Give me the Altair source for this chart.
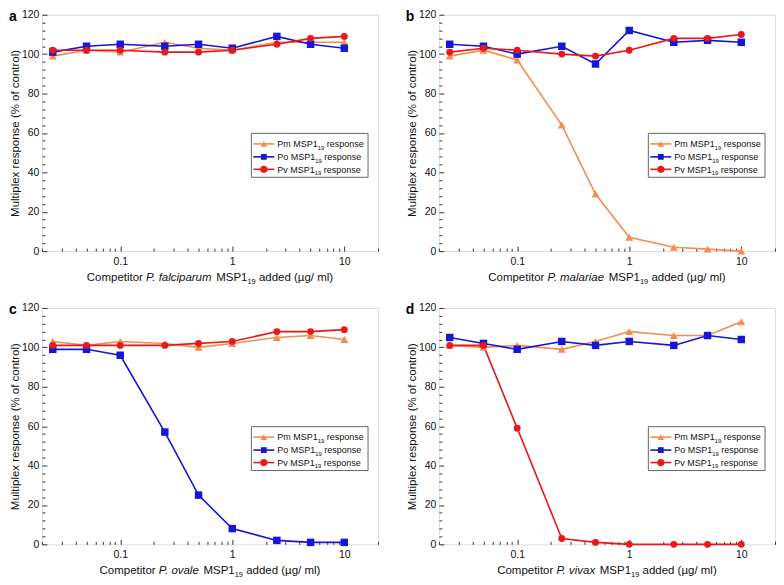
import altair as alt
import pandas as pd

# ---------------- data ----------------
conc = [0.025, 0.05, 0.1, 0.25, 0.5, 1, 2.5, 5, 10]
series_names = ["Pm", "Po", "Pv"]

a_pm = [99, 102, 101, 106, 103, 102, 106, 106, 106]
a_po = [101, 104, 105, 104, 105, 103, 109, 105, 103]
a_pv = [102, 102, 102, 101, 101, 102, 105, 108, 109]

b_pm = [99, 102, 97, 64, 29, 7, 2, 1, 0]
b_po = [105, 104, 100, 104, 95, 112, 106, 107, 106]
b_pv = [101, 103, 102, 100, 99, 102, 108, 108, 110]

c_pm = [103, 101, 103, 102, 100, 102, 105, 106, 104]
c_po = [99, 99, 96, 57, 25, 8, 2, 1, 1]
c_pv = [101, 101, 101, 101, 102, 103, 108, 108, 109]

d_pm = [101, 100, 101, 99, 103, 108, 106, 106, 113]
d_po = [105, 102, 99, 103, 101, 103, 101, 106, 104]
d_pv = [101, 101, 59, 3, 1, 0, 0, 0, 0]

panel_letters = ["a", "b", "c", "d"]
panel_species = ["P. falciparum", "P. malariae", "P. ovale", "P. vivax"]

x_major = [0.1, 1, 10]
x_minor = [0.02, 0.03, 0.04, 0.05, 0.06, 0.07, 0.08, 0.09,
           0.2, 0.3, 0.4, 0.5, 0.6, 0.7, 0.8, 0.9,
           2, 3, 4, 5, 6, 7, 8, 9, 20]
y_major = [0, 20, 40, 60, 80, 100, 120]
y_minor = [v for v in range(0, 121, 4) if v % 20 != 0]

# ---------------- style ----------------
FONT = "Liberation Sans"
PW, PH = 337, 237
colors = ["#F58D4E", "#1616D6", "#E8191C"]
shapes = ["triangle-up", "square", "circle"]
sizes = [64, 48, 76]
leg_sizes = [44, 34, 52]
TICK_C = "#333333"

# Arial-like advance widths (per 1000 em) for laying out rich titles
W = {' ': 278, '.': 278, '(': 333, ')': 333, '/': 278, '%': 889,
     '0': 556, '1': 556, '9': 556, 'C': 722, 'M': 833, 'P': 667, 'S': 667,
     'a': 556, 'c': 500, 'd': 556, 'e': 556, 'f': 278, 'g': 556, 'i': 222,
     'l': 222, 'm': 833, 'n': 556, 'o': 556, 'p': 556, 'r': 333, 's': 500,
     't': 278, 'u': 556, 'v': 500, 'x': 500, 'µ': 576}


def tw(s, size):
    return sum(W.get(ch, 556) for ch in s) * size / 1000.0


def one():
    return alt.Data(values=[{"k": 1}])


def rich_text(pieces, x0, y0):
    """pieces: list of (text, size, style, dy); laid out left to right.
    Leading/trailing spaces are turned into x offsets (the renderer trims them)."""
    out = []
    x = x0
    for text, size, style, dy in pieces:
        lead = len(text) - len(text.lstrip(" "))
        x += lead * W[" "] * size / 1000.0
        core = text.strip(" ")
        out.append(
            alt.Chart(one()).mark_text(
                text=core, align="left", baseline="alphabetic", font=FONT,
                fontSize=size, fontStyle=style, color="#111111"
            ).encode(x=alt.value(x), y=alt.value(y0 + dy))
        )
        x += tw(text.lstrip(" "), size)
    return out


def make_panel(letter, species, pm, po, pv):
    rows = []
    for name, vals in zip(series_names, [pm, po, pv]):
        for c, v in zip(conc, vals):
            rows.append({"conc": c, "value": v, "series": name})
    df = pd.DataFrame(rows)
    base = alt.Chart(df)

    xs = alt.Scale(type="log", domain=[0.02, 20], nice=False)
    ys = alt.Scale(domain=[0, 120], nice=False)
    color = alt.Color("series:N", scale=alt.Scale(domain=series_names, range=colors), legend=None)
    shape = alt.Shape("series:N", scale=alt.Scale(domain=series_names, range=shapes), legend=None)
    size = alt.Size("series:O", scale=alt.Scale(domain=series_names, range=sizes), legend=None)

    lines = base.mark_line(strokeWidth=1.6).encode(
        x=alt.X("conc:Q", scale=xs,
                axis=alt.Axis(values=x_major, ticks=False, domain=False, grid=False,
                              labelPadding=5, title=None, format="~g", orient="bottom",
                              labelFontSize=10.5, labelColor="#111111", labelFont=FONT)),
        y=alt.Y("value:Q", scale=ys,
                axis=alt.Axis(values=y_major, ticks=False, domain=False, grid=False,
                              labelPadding=3, title="Multiplex response (% of control)",
                              titlePadding=1, titleFontSize=11.5, titleFontWeight="normal",
                              titleFont=FONT, titleColor="#111111", orient="left",
                              labelFontSize=10.5, labelColor="#111111", labelFont=FONT)),
        color=color,
    )
    points = base.mark_point(filled=True, opacity=1).encode(
        x=alt.X("conc:Q", scale=xs,
                axis=alt.Axis(values=x_major, labels=False, domain=False, grid=False,
                              ticks=True, tickSize=5, offset=-5, title=None,
                              tickColor=TICK_C, orient="bottom")),
        y=alt.Y("value:Q", scale=ys,
                axis=alt.Axis(values=y_major, labels=False, domain=False, grid=False,
                              ticks=True, tickSize=5, offset=-5, title=None,
                              tickColor=TICK_C, orient="left")),
        color=color, shape=shape, size=size,
    )
    minor = base.mark_point(opacity=0).encode(
        x=alt.X("conc:Q", scale=xs,
                axis=alt.Axis(values=x_minor, labels=False, domain=False, grid=False,
                              ticks=True, tickSize=3, offset=-3, title=None,
                              tickColor=TICK_C, orient="bottom")),
        y=alt.Y("value:Q", scale=ys,
                axis=alt.Axis(values=y_minor, labels=False, domain=False, grid=False,
                              ticks=True, tickSize=3, offset=-3, title=None,
                              tickColor=TICK_C, orient="left")),
    )

    layers = [lines, points, minor]

    # legend box
    bx1 = PW - 10
    bx0 = bx1 - 117
    by0, by1 = 119, 163
    layers.append(
        alt.Chart(one()).mark_rect(fill="white", stroke="#666666", strokeWidth=1).encode(
            x=alt.value(bx0), x2=alt.value(bx1), y=alt.value(by0), y2=alt.value(by1))
    )
    row_y = [129.5, 142.5, 155]
    for i, name in enumerate(series_names):
        ry = row_y[i]
        layers.append(
            alt.Chart(one()).mark_rule(color=colors[i], strokeWidth=1.6).encode(
                x=alt.value(bx0 + 2), x2=alt.value(bx0 + 23), y=alt.value(ry))
        )
        layers.append(
            alt.Chart(one()).mark_point(filled=True, opacity=1, shape=shapes[i],
                                        size=leg_sizes[i], color=colors[i]).encode(
                x=alt.value(bx0 + 12.5), y=alt.value(ry))
        )
        layers += rich_text([(name + " MSP1", 9, "normal", 0),
                             ("19", 6, "normal", 2.5),
                             (" response", 9, "normal", 0)],
                            bx0 + 26, ry + 3.2)

    # x-axis title (rich text: italic species, subscript 19)
    tpieces = [("Competitor", 11.5, "normal", 0),
               (" " + species, 11.5, "italic", 0),
               (" MSP1", 11.5, "normal", 0),
               ("19", 7.5, "normal", 2.5),
               (" added (µg/ ml)", 11.5, "normal", 0)]
    total = sum(tw(t, s) for t, s, _, _ in tpieces)
    layers += rich_text(tpieces, PW / 2 - total / 2, PH + 30)

    # panel letter
    layers.append(
        alt.Chart(one()).mark_text(text=letter, font=FONT, fontSize=14, fontWeight="bold",
                                   align="center", baseline="alphabetic", color="#000000").encode(
            x=alt.value(-29), y=alt.value(6))
    )

    return alt.layer(*layers).resolve_axis(x="independent", y="independent").properties(
        width=PW, height=PH)


data_sets = [(a_pm, a_po, a_pv), (b_pm, b_po, b_pv), (c_pm, c_po, c_pv), (d_pm, d_po, d_pv)]
panels = [make_panel(l, s, *d) for l, s, d in zip(panel_letters, panel_species, data_sets)]

row1 = alt.hconcat(panels[0], panels[1], spacing=26)
row2 = alt.hconcat(panels[2], panels[3], spacing=26)
chart = alt.vconcat(row1, row2, spacing=16).properties(
    padding={"left": 0, "top": 0, "right": 0, "bottom": 0}
).configure_view(stroke="#555555", strokeWidth=1).configure(font=FONT)

chart.save("out.html", embed_options={"renderer": "svg", "actions": False})
